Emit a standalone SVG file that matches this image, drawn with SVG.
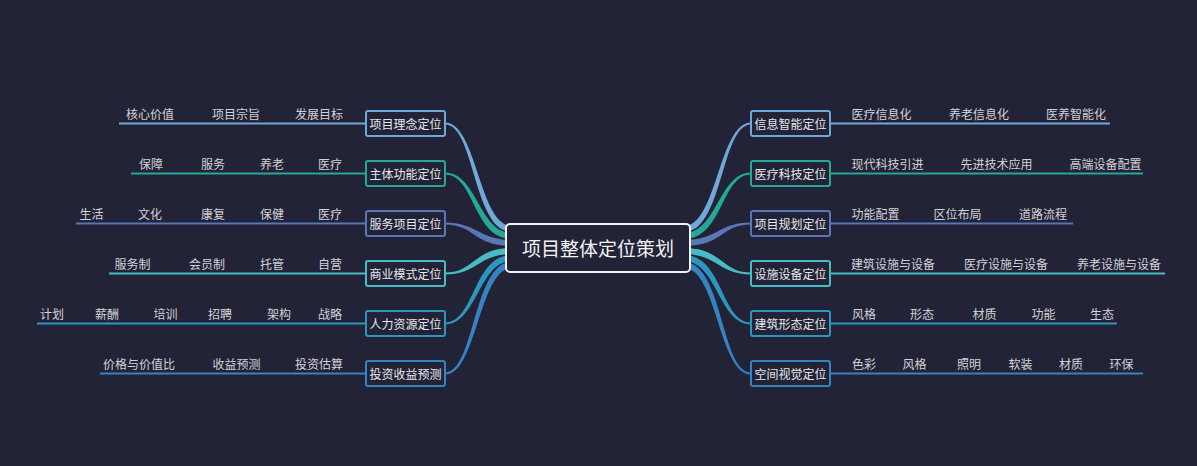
<svg xmlns="http://www.w3.org/2000/svg" width="1197" height="466" viewBox="0 0 1197 466">
<style>
text{font-family:"Noto Sans CJK SC","Noto Sans",sans-serif;}
.leaf{font-size:12px;fill:#d2d3d8;text-anchor:middle;dominant-baseline:central;}
.lbl{font-size:12px;fill:#e8e8ec;text-anchor:middle;dominant-baseline:central;}
.box{fill:#222336;stroke-width:2;}
.ln{stroke-width:2;fill:none;}
.c1{stroke:#70a8d8;} .f1{fill:#70a8d8;}
.c2{stroke:#25a897;} .f2{fill:#25a897;}
.c3{stroke:#5777b6;} .f3{fill:#5777b6;}
.c4{stroke:#48bcc4;} .f4{fill:#48bcc4;}
.c5{stroke:#2d96bf;} .f5{fill:#2d96bf;}
.c6{stroke:#3682c2;} .f6{fill:#3682c2;}
</style>
<rect width="1197" height="466" fill="#222336"/>
<g id="connectors">
<path class="f1" d="M445,122.5 C477,122.5 479,226 512,226 L512,232 C473,232 475,124.5 445,124.5 Z"/>
<path class="f2" d="M445,172.5 C477,172.5 479,233 512,233 L512,239 C473,239 475,174.5 445,174.5 Z"/>
<path class="f3" d="M445,222.5 C477,222.5 479,240 512,240 L512,246 C473,246 475,224.5 445,224.5 Z"/>
<path class="f4" d="M445,272.5 C475,272.5 473,248 512,248 L512,254 C479,254 477,274.5 445,274.5 Z"/>
<path class="f5" d="M445,322.5 C475,322.5 473,255 512,255 L512,261 C479,261 477,324.5 445,324.5 Z"/>
<path class="f6" d="M445,372.5 C475,372.5 473,262 512,262 L512,268 C479,268 477,374.5 445,374.5 Z"/>
<path class="f1" d="M684,226 C717,226 719,122.5 751,122.5 L751,124.5 C721,124.5 723,232 684,232 Z"/>
<path class="f2" d="M684,233 C717,233 719,172.5 751,172.5 L751,174.5 C721,174.5 723,239 684,239 Z"/>
<path class="f3" d="M684,240 C717,240 719,222.5 751,222.5 L751,224.5 C721,224.5 723,246 684,246 Z"/>
<path class="f4" d="M684,248 C723,248 721,272.5 751,272.5 L751,274.5 C719,274.5 717,254 684,254 Z"/>
<path class="f5" d="M684,255 C723,255 721,322.5 751,322.5 L751,324.5 C719,324.5 717,261 684,261 Z"/>
<path class="f6" d="M684,262 C723,262 721,372.5 751,372.5 L751,374.5 C719,374.5 717,268 684,268 Z"/>
<line class="ln c1" x1="119" y1="123.5" x2="366" y2="123.5"/>
<line class="ln c2" x1="131" y1="173.5" x2="366" y2="173.5"/>
<line class="ln c3" x1="76" y1="223.5" x2="366" y2="223.5"/>
<line class="ln c4" x1="109" y1="273.5" x2="366" y2="273.5"/>
<line class="ln c5" x1="37" y1="323.5" x2="366" y2="323.5"/>
<line class="ln c6" x1="100" y1="373.5" x2="366" y2="373.5"/>
<line class="ln c1" x1="830" y1="123.5" x2="1110" y2="123.5"/>
<line class="ln c2" x1="830" y1="173.5" x2="1143" y2="173.5"/>
<line class="ln c3" x1="830" y1="223.5" x2="1073" y2="223.5"/>
<line class="ln c4" x1="830" y1="273.5" x2="1165" y2="273.5"/>
<line class="ln c5" x1="830" y1="323.5" x2="1117" y2="323.5"/>
<line class="ln c6" x1="830" y1="373.5" x2="1143" y2="373.5"/>
</g>
<g id="root">
<rect x="506" y="224" width="184" height="48" rx="4" fill="#222336" stroke="#f2f2f2" stroke-width="2"/>
<text x="598" y="247.5" font-size="19" fill="#f2f2f2" text-anchor="middle" dominant-baseline="central">项目整体定位策划</text>
</g>
<g id="n-linian">
<rect class="box c1" x="366" y="111" width="79" height="25" rx="2"/>
<text class="lbl" x="405.5" y="123.5">项目理念定位</text>
<text class="leaf" x="150" y="113">核心价值</text>
<text class="leaf" x="236" y="113">项目宗旨</text>
<text class="leaf" x="319" y="113">发展目标</text>
</g>
<g id="n-gongneng">
<rect class="box c2" x="366" y="161" width="79" height="25" rx="2"/>
<text class="lbl" x="405.5" y="173.5">主体功能定位</text>
<text class="leaf" x="151" y="163">保障</text>
<text class="leaf" x="213" y="163">服务</text>
<text class="leaf" x="272" y="163">养老</text>
<text class="leaf" x="330" y="163">医疗</text>
</g>
<g id="n-fuwu">
<rect class="box c3" x="366" y="211" width="79" height="25" rx="2"/>
<text class="lbl" x="405.5" y="223.5">服务项目定位</text>
<text class="leaf" x="91.5" y="213">生活</text>
<text class="leaf" x="150" y="213">文化</text>
<text class="leaf" x="213" y="213">康复</text>
<text class="leaf" x="272" y="213">保健</text>
<text class="leaf" x="330" y="213">医疗</text>
</g>
<g id="n-shangye">
<rect class="box c4" x="366" y="261" width="79" height="25" rx="2"/>
<text class="lbl" x="405.5" y="273.5">商业模式定位</text>
<text class="leaf" x="132.5" y="263">服务制</text>
<text class="leaf" x="207" y="263">会员制</text>
<text class="leaf" x="272" y="263">托管</text>
<text class="leaf" x="330" y="263">自营</text>
</g>
<g id="n-renli">
<rect class="box c5" x="366" y="311" width="79" height="25" rx="2"/>
<text class="lbl" x="405.5" y="323.5">人力资源定位</text>
<text class="leaf" x="52" y="313">计划</text>
<text class="leaf" x="107" y="313">薪酬</text>
<text class="leaf" x="165.5" y="313">培训</text>
<text class="leaf" x="220" y="313">招聘</text>
<text class="leaf" x="279" y="313">架构</text>
<text class="leaf" x="330" y="313">战略</text>
</g>
<g id="n-touzi">
<rect class="box c6" x="366" y="361" width="79" height="25" rx="2"/>
<text class="lbl" x="405.5" y="373.5">投资收益预测</text>
<text class="leaf" x="139" y="363">价格与价值比</text>
<text class="leaf" x="236.5" y="363">收益预测</text>
<text class="leaf" x="319" y="363">投资估算</text>
</g>
<g id="n-xinxi">
<rect class="box c1" x="751" y="111" width="79" height="25" rx="2"/>
<text class="lbl" x="790.5" y="123.5">信息智能定位</text>
<text class="leaf" x="881.5" y="113">医疗信息化</text>
<text class="leaf" x="979" y="113">养老信息化</text>
<text class="leaf" x="1076" y="113">医养智能化</text>
</g>
<g id="n-keji">
<rect class="box c2" x="751" y="161" width="79" height="25" rx="2"/>
<text class="lbl" x="790.5" y="173.5">医疗科技定位</text>
<text class="leaf" x="887.5" y="163">现代科技引进</text>
<text class="leaf" x="996.5" y="163">先进技术应用</text>
<text class="leaf" x="1105.5" y="163">高端设备配置</text>
</g>
<g id="n-guihua">
<rect class="box c3" x="751" y="211" width="79" height="25" rx="2"/>
<text class="lbl" x="790.5" y="223.5">项目规划定位</text>
<text class="leaf" x="875.5" y="213">功能配置</text>
<text class="leaf" x="957.5" y="213">区位布局</text>
<text class="leaf" x="1043" y="213">道路流程</text>
</g>
<g id="n-sheshi">
<rect class="box c4" x="751" y="261" width="79" height="25" rx="2"/>
<text class="lbl" x="790.5" y="273.5">设施设备定位</text>
<text class="leaf" x="893" y="263">建筑设施与设备</text>
<text class="leaf" x="1006" y="263">医疗设施与设备</text>
<text class="leaf" x="1119" y="263">养老设施与设备</text>
</g>
<g id="n-jianzhu">
<rect class="box c5" x="751" y="311" width="79" height="25" rx="2"/>
<text class="lbl" x="790.5" y="323.5">建筑形态定位</text>
<text class="leaf" x="864" y="313">风格</text>
<text class="leaf" x="922" y="313">形态</text>
<text class="leaf" x="984.5" y="313">材质</text>
<text class="leaf" x="1043.5" y="313">功能</text>
<text class="leaf" x="1102" y="313">生态</text>
</g>
<g id="n-kongjian">
<rect class="box c6" x="751" y="361" width="79" height="25" rx="2"/>
<text class="lbl" x="790.5" y="373.5">空间视觉定位</text>
<text class="leaf" x="864" y="363">色彩</text>
<text class="leaf" x="914.5" y="363">风格</text>
<text class="leaf" x="969" y="363">照明</text>
<text class="leaf" x="1020.5" y="363">软装</text>
<text class="leaf" x="1071" y="363">材质</text>
<text class="leaf" x="1121.5" y="363">环保</text>
</g>
</svg>
